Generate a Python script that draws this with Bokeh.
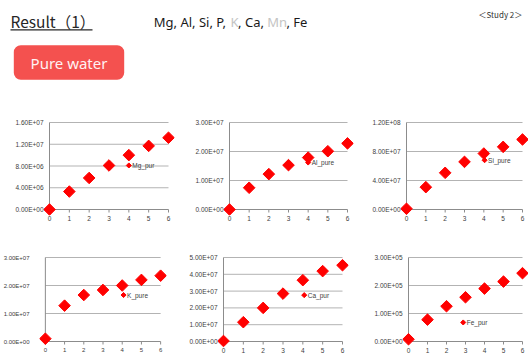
import numpy as np
from bokeh.plotting import figure
from bokeh.layouts import column, row
from bokeh.models import Range1d, FixedTicker, BoxAnnotation
from bokeh.core.properties import value
from bokeh.embed import file_html
from bokeh.resources import INLINE

# ---------------- data ----------------
x_vals = [0, 1, 2, 3, 4, 5, 6]

mg_pure = [0, 3.3e6, 5.8e6, 8.1e6, 1.0e7, 1.17e7, 1.32e7]
al_pure = [0, 7.5e6, 1.22e7, 1.53e7, 1.79e7, 2.01e7, 2.28e7]
si_pure = [1.0e6, 3.08e7, 5.06e7, 6.57e7, 7.72e7, 8.64e7, 9.66e7]
k_pure = [1.0e6, 1.28e7, 1.66e7, 1.84e7, 2.0e7, 2.2e7, 2.35e7]
ca_pure = [3e5, 1.15e7, 2.0e7, 2.85e7, 3.65e7, 4.19e7, 4.54e7]
fe_pure = [8e3, 7.8e4, 1.26e5, 1.58e5, 1.89e5, 2.14e5, 2.44e5]

mg_ticks = [0, 4e6, 8e6, 1.2e7, 1.6e7]
mg_tick_labels = ["0.00E+00", "4.00E+06", "8.00E+06", "1.20E+07", "1.60E+07"]
al_ticks = [0, 1e7, 2e7, 3e7]
al_tick_labels = ["0.00E+00", "1.00E+07", "2.00E+07", "3.00E+07"]
si_ticks = [0, 4e7, 8e7, 1.2e8]
si_tick_labels = ["0.00E+00", "4.00E+07", "8.00E+07", "1.20E+08"]
k_ticks = [0, 1e7, 2e7, 3e7]
k_tick_labels = ["0.00E+00", "1.00E+07", "2.00E+07", "3.00E+07"]
ca_ticks = [0, 1e7, 2e7, 3e7, 4e7, 5e7]
ca_tick_labels = ["0.00E+00", "1.00E+07", "2.00E+07", "3.00E+07", "4.00E+07", "5.00E+07"]
fe_ticks = [0, 1e5, 2e5, 3e5]
fe_tick_labels = ["0.00E+00", "1.00E+05", "2.00E+05", "3.00E+05"]

series_names = ["Mg_pur", "Al_pure", "Si_pure", "K_pure", "Ca_pur", "Fe_pur"]

title_text = "Result（1）"
elements_tokens = ["Mg, Al, Si, P, ", "K", ", Ca, ", "Mn", ", Fe"]
elements_dimmed = [False, True, False, True, False]
study_text = "＜Study 2＞"
badge_text = "Pure water"

# legend anchor points (where the in-plot legend marker sits)
legend_pos = [(4.0, 8.1e6), (4.0, 1.62e7), (4.04, 6.8e7),
              (4.07, 1.66e7), (4.07, 2.76e7), (2.88, 6.8e4)]

# ---------------- styles ----------------
RED = "#ff0000"
GRID = "#b3b3b3"
AXIS = "#8c8c8c"
LABEL = "#404040"
TICK_FONT = "Liberation Sans"
PAD_X = 6   # px between frame edge and x=0 / x=6
PAD_B = 6   # px below y=0
PAD_T = 1   # px above top tick

# ---------------- header ----------------
HW, HH = 528, 110


def hy(y):
    return HH - y


hdr = figure(width=HW, height=HH, x_range=Range1d(0, HW), y_range=Range1d(0, HH),
             output_backend="svg", toolbar_location=None,
             x_axis_location=None, y_axis_location=None, min_border=0)
hdr.outline_line_color = None
hdr.grid.visible = False

hdr.text(x=[10], y=[hy(20)], text=[title_text], text_font=value("Noto Sans CJK JP"),
         text_font_size="15.5px", text_baseline="middle", text_color="#262626")
hdr.segment(x0=[10], x1=[92], y0=[hy(29.3)], y1=[hy(29.3)], line_width=1.3, line_color="#262626")

tok_x = [153.3, 230.0, 237.6, 266.7, 286.0]
for tx, tok, dim in zip(tok_x, elements_tokens, elements_dimmed):
    hdr.text(x=[tx], y=[hy(21.5)], text=[tok], text_font=value("Noto Sans"),
             text_font_size="13px", text_baseline="middle",
             text_color="#c4c4c4" if dim else "#1a1a1a")

hdr.text(x=[478], y=[hy(14)], text=[study_text], text_font=value("Noto Sans CJK JP"),
         text_font_size="8px", text_baseline="middle", text_color="#333333")

hdr.add_layout(BoxAnnotation(left=13.3, right=123.7, top=hy(44.7), bottom=hy(79.3),
                             fill_color="#f4514f", fill_alpha=1.0, line_color=None,
                             border_radius=7, level="underlay"))
hdr.text(x=[68.5], y=[hy(62)], text=[badge_text], text_font=value("Noto Sans"),
         text_font_size="15px", text_align="center", text_baseline="middle",
         text_color="#fff2f2")


# ---------------- panels ----------------
def panel(ys, ticks, tick_labels, name, lpos, w, h, bl, br, bt, bb, standoff=0, fs="6.5px"):
    fw = w - bl - br
    fh = h - bt - bb
    xmax = max(x_vals)
    ymax = ticks[-1]
    ux = xmax / (fw - 2 * PAD_X)
    uy = ymax / (fh - PAD_B - PAD_T)
    p = figure(width=w, height=h,
               x_range=Range1d(-PAD_X * ux, xmax + PAD_X * ux),
               y_range=Range1d(-PAD_B * uy, ymax + PAD_T * uy),
               output_backend="svg", toolbar_location=None,
               min_border_left=bl, min_border_right=br,
               min_border_top=bt, min_border_bottom=bb)
    p.outline_line_color = None
    p.xgrid.visible = False
    p.ygrid.visible = False
    p.background_fill_color = None
    p.border_fill_color = None

    ya = p.yaxis[0]
    ya.ticker = FixedTicker(ticks=ticks, minor_ticks=[])
    ya.major_label_overrides = {float(t): lab for t, lab in zip(ticks, tick_labels)}
    ya.axis_line_color = None
    ya.major_tick_line_color = None
    ya.minor_tick_line_color = None
    ya.major_tick_in = 0
    ya.major_tick_out = 0
    ya.major_label_standoff = standoff
    ya.major_label_text_font_size = fs
    ya.major_label_text_font = TICK_FONT
    ya.major_label_text_color = LABEL

    xa = p.xaxis[0]
    xa.ticker = FixedTicker(ticks=x_vals, minor_ticks=[])
    xa.axis_line_color = None
    xa.major_tick_line_color = None
    xa.minor_tick_line_color = None
    xa.major_tick_in = 0
    xa.major_tick_out = 0
    xa.major_label_standoff = 0
    xa.major_label_text_font_size = fs
    xa.major_label_text_font = TICK_FONT
    xa.major_label_text_color = LABEL

    # gridlines from x=0 to x=max
    gl = ticks[1:]
    p.segment(x0=[0] * len(gl), x1=[xmax] * len(gl), y0=gl, y1=gl,
              line_color=GRID, line_width=1)
    # axis lines
    p.segment(x0=[0], x1=[xmax], y0=[0], y1=[0], line_color=AXIS, line_width=1)
    p.segment(x0=[0], x1=[0], y0=[0], y1=[ymax], line_color=AXIS, line_width=1)
    # small x tick marks
    p.segment(x0=x_vals, x1=x_vals, y0=[0] * len(x_vals), y1=[-3 * uy] * len(x_vals),
              line_color=AXIS, line_width=1)

    p.scatter(x=x_vals, y=ys, marker="square", angle=np.pi / 4, size=8.2,
              fill_color=RED, line_color=RED)

    # in-plot legend
    p.scatter(x=[lpos[0]], y=[lpos[1]], marker="square", angle=np.pi / 4, size=3.6,
              fill_color=RED, line_color=RED)
    p.text(x=[lpos[0]], y=[lpos[1]], text=[name], x_offset=3.5, text_baseline="middle",
           text_font=value(TICK_FONT), text_font_size="6.5px", text_color=LABEL)
    return p


R1H, R2H = 133, 112
p1 = panel(mg_pure, mg_ticks, mg_tick_labels, series_names[0], legend_pos[0], 180, R1H, 43, 6, 11, 28)
p2 = panel(al_pure, al_ticks, al_tick_labels, series_names[1], legend_pos[1], 175, R1H, 43, 2, 11, 28)
p3 = panel(si_pure, si_ticks, si_tick_labels, series_names[2], legend_pos[2], 173, R1H, 45, 0, 11, 28)
p4 = panel(k_pure, k_ticks, k_tick_labels, series_names[3], legend_pos[3], 180, R2H, 36, 14, 13, 8,
           standoff=10, fs="6px")
p5 = panel(ca_pure, ca_ticks, ca_tick_labels, series_names[4], legend_pos[4], 175, R2H, 37, 7, 13, 8)
p6 = panel(fe_pure, fe_ticks, fe_tick_labels, series_names[5], legend_pos[5], 173, R2H, 47, 0, 13, 8)

layout = column(hdr, row(p1, p2, p3, spacing=0), row(p4, p5, p6, spacing=0), spacing=0)

open("out.html", "w").write(file_html(layout, INLINE))
